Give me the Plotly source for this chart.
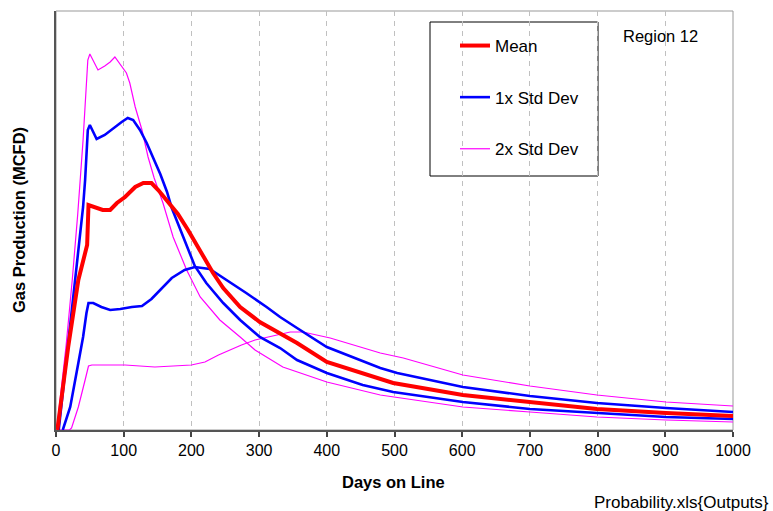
import plotly.graph_objects as go

mean_days = [2, 8, 18, 33, 40, 46, 48, 58, 69, 80, 90, 102, 117, 129, 141, 151, 165, 180, 195, 210, 222, 232, 247, 272, 301, 331, 356, 400, 468, 498, 601, 700, 799, 901, 1000]
mean_vals = [0, 33, 83, 150, 170, 185, 225, 223, 220, 220, 227, 233, 243, 247, 247, 240, 228, 216, 200, 183, 168, 157, 142, 123, 108, 97, 87, 68, 53, 47, 35, 28, 21, 17, 14]

std1a_days = [4, 15, 28, 40, 43, 45, 47, 50, 60, 72, 85, 97, 106, 114, 124, 134, 143, 154, 164, 171, 188, 205, 222, 247, 272, 301, 331, 356, 400, 453, 498, 601, 700, 799, 901, 1000]
std1a_vals = [0, 70, 150, 223, 250, 273, 300, 305, 291, 295, 302, 308, 312, 310, 300, 287, 273, 256, 238, 222, 193, 164, 147, 127, 110, 93, 82, 70, 57, 45, 38, 28, 21, 17, 13, 11]

std1b_days = [10, 21, 33, 40, 45, 48, 55, 67, 80, 95, 112, 127, 141, 156, 171, 190, 205, 227, 252, 281, 311, 331, 356, 400, 479, 504, 601, 700, 799, 901, 1000]
std1b_vals = [0, 23, 67, 93, 117, 127, 127, 123, 120, 121, 123, 124, 131, 142, 152, 160, 163, 161, 150, 137, 123, 113, 102, 83, 62, 57, 43, 34, 27, 22, 18]

std2a_days = [1, 15, 24, 32, 40, 45, 47, 50, 62, 72, 80, 87, 95, 104, 109, 117, 127, 136, 145, 158, 173, 193, 213, 242, 272, 294, 335, 400, 479, 601, 700, 799, 901, 1000]
std2a_vals = [0, 85, 150, 215, 290, 340, 370, 376, 360, 364, 368, 373, 365, 357, 347, 323, 300, 273, 252, 227, 193, 160, 133, 110, 93, 80, 63, 48, 35, 23, 18, 13, 10, 8]

std2b_days = [3, 20, 23, 33, 43, 48, 53, 102, 146, 200, 220, 240, 274, 294, 346, 365, 405, 479, 513, 563, 601, 700, 799, 901, 1000]
std2b_vals = [0, 0, 2, 23, 50, 64, 65, 65, 63, 65, 68, 75, 85, 90, 98, 98, 92, 77, 72, 62, 55, 44, 35, 28, 24]

x_ticks = [0, 100, 200, 300, 400, 500, 600, 700, 800, 900, 1000]

FONT = "Liberation Sans, Arial, sans-serif"

fig = go.Figure()
fig.add_trace(go.Scatter(x=std2a_days, y=std2a_vals, mode="lines", name="2x Std Dev",
                         line=dict(color="#ff00ff", width=1.2), legendgroup="g3", legendrank=3))
fig.add_trace(go.Scatter(x=std2b_days, y=std2b_vals, mode="lines", name="2x Std Dev",
                         line=dict(color="#ff00ff", width=1.2), legendgroup="g3", showlegend=False))
fig.add_trace(go.Scatter(x=std1a_days, y=std1a_vals, mode="lines", name="1x Std Dev",
                         line=dict(color="#0000ff", width=2.6), legendgroup="g2", legendrank=2))
fig.add_trace(go.Scatter(x=std1b_days, y=std1b_vals, mode="lines", name="1x Std Dev",
                         line=dict(color="#0000ff", width=2.6), legendgroup="g2", showlegend=False))
fig.add_trace(go.Scatter(x=mean_days, y=mean_vals, mode="lines", name="Mean",
                         line=dict(color="#ff0000", width=4), legendgroup="g1", legendrank=1))

L, R, T, B = 56, 40, 11, 81
W, H = 773, 511
pw, ph = W - L - R, H - T - B

def px(xp):
    return (xp - L) / pw

def py(yp):
    return (H - B - yp) / ph

fig.update_layout(
    width=W, height=H,
    margin=dict(l=L, r=R, t=T, b=B),
    paper_bgcolor="white", plot_bgcolor="white",
    font=dict(family=FONT, size=16, color="black"),
    showlegend=True,
    legend=dict(x=px(455), y=py(28), xanchor="left", yanchor="top",
                bgcolor="rgba(0,0,0,0)", borderwidth=0,
                font=dict(size=17, family=FONT), tracegroupgap=26.5,
                traceorder="grouped"),
    xaxis=dict(range=[0, 1000], tickvals=x_ticks, ticks="outside", ticklen=5,
               tickcolor="#444", tickwidth=1.5,
               showline=True, linecolor="#555", linewidth=2,
               showgrid=True, gridcolor="#c0c0c0", griddash="5px,5px", gridwidth=1,
               zeroline=False, tickfont=dict(size=16, family=FONT)),
    yaxis=dict(range=[0, 419], showticklabels=False, ticks="",
               showline=True, linecolor="#555", linewidth=2,
               showgrid=False, zeroline=False),
    shapes=[
        dict(type="rect", xref="paper", yref="paper", x0=0, x1=1, y0=0, y1=1,
             line=dict(color="#999", width=1), layer="below"),
        dict(type="rect", xref="paper", yref="paper", x0=px(430), x1=px(598), y0=py(176), y1=py(22),
             line=dict(color="black", width=1), fillcolor="white", layer="below"),
    ],
    annotations=[
        dict(text="<b>Days on Line</b>", xref="paper", yref="paper", x=px(393), y=py(482),
             xanchor="center", yanchor="middle", showarrow=False,
             font=dict(size=16.5, family=FONT, color="black")),
        dict(text="<b>Gas Production (MCFD)</b>", xref="paper", yref="paper", x=px(19), y=py(220),
             xanchor="center", yanchor="middle", textangle=-90, showarrow=False,
             font=dict(size=16.5, family=FONT, color="black")),
        dict(text="Region 12", xref="paper", yref="paper", x=px(660), y=py(36),
             xanchor="center", yanchor="middle", showarrow=False,
             font=dict(size=16.5, family=FONT, color="black")),
        dict(text="Probability.xls{Outputs}", xref="paper", yref="paper", x=px(771), y=py(502),
             xanchor="right", yanchor="middle", showarrow=False,
             font=dict(size=17, family=FONT, color="black")),
    ],
)

fig.write_html("out.html")
